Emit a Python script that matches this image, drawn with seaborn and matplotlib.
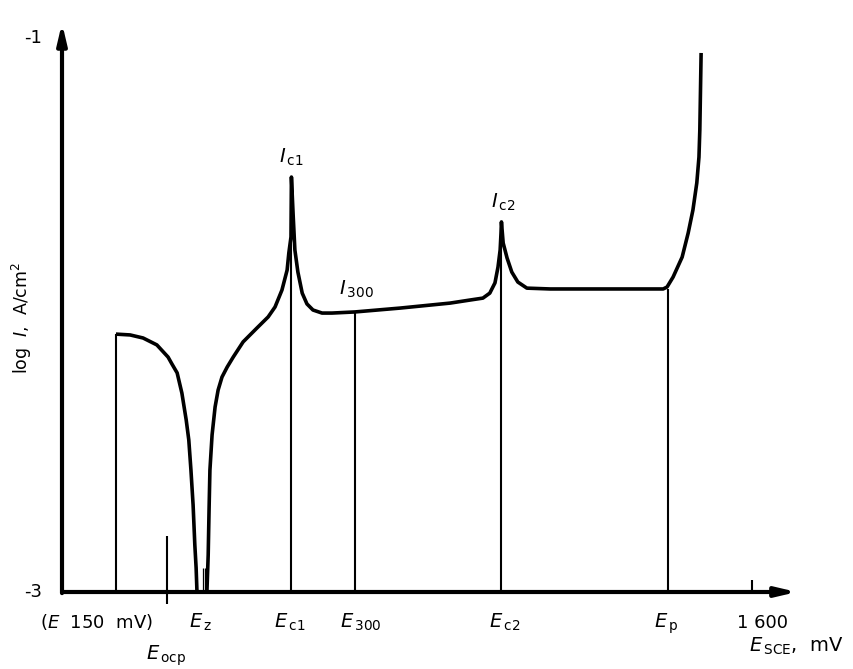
import matplotlib
matplotlib.use("Agg")
import matplotlib.pyplot as plt
import seaborn as sns
import pandas as pd

sns.set_style("white")
plt.rcParams["font.family"] = ["DejaVu Sans"]
plt.rcParams["mathtext.fontset"] = "dejavusans"
plt.rcParams["text.color"] = "black"

# ---- data (E in mV, log I in A/cm^2) ----
# cathodic branch (from start potential down to the current zero crossing)
branch1_E = [125, 158, 188, 220, 246, 255, 267, 278, 288, 294, 299, 304, 308, 311, 313]
branch1_logI = [-2.069, -2.072, -2.083, -2.108, -2.152, -2.177, -2.209, -2.282, -2.379,
                -2.451, -2.560, -2.686, -2.830, -2.913, -3.000]

# anodic branch (from zero crossing through Ic1, I300, Ic2, passive range, breakdown)
branch2_E = [336, 339, 341, 343, 348, 355, 362, 371, 383, 397, 420, 452, 478, 494, 510, 522,
             526, 531, 532, 536, 540, 547, 557, 568, 582, 603, 626, 679, 784, 900, 946,
             976, 992, 1004, 1011, 1016, 1018, 1019, 1023, 1032, 1043, 1057, 1078, 1132, 1248,
             1394, 1403, 1417, 1438, 1452, 1463, 1472, 1477, 1479, 1482]
branch2_logI = [-3.000, -2.866, -2.704, -2.560, -2.433, -2.332, -2.271, -2.224, -2.188, -2.152,
                -2.097, -2.047, -2.007, -1.971, -1.910, -1.838, -1.776, -1.718, -1.502, -1.639,
                -1.765, -1.845, -1.921, -1.960, -1.982, -1.993, -1.993, -1.989, -1.975, -1.957,
                -1.946, -1.939, -1.921, -1.884, -1.827, -1.765, -1.704, -1.664, -1.740, -1.794,
                -1.845, -1.881, -1.903, -1.906, -1.906, -1.906, -1.899, -1.863, -1.791, -1.704,
                -1.621, -1.523, -1.430, -1.332, -1.054]

# characteristic potentials drawn as vertical lines (E, top log I)
marker_E = [125, 532, 679, 1019, 1405]
marker_top = [-2.069, -1.502, -1.993, -1.664, -1.906]
ocp_E, ocp_bottom, ocp_top = 243, -3.043, -2.798
ez_E = [327, 332]
ez_top = -2.913
tick1600_E, tick1600_top = 1600, -2.957

y_ticks = [-3, -1]
y_tick_labels = ["-3", "-1"]

# ---- figure ----
fig = plt.figure(figsize=(8.54, 6.69), dpi=100)
ax = fig.add_axes([62 / 854, 77 / 669, 738 / 854, 572 / 669])
ax.set_xlim(0, 1711.3)
ax.set_ylim(-3, -0.935)
ax.axis("off")

df1 = pd.DataFrame({"E": branch1_E, "logI": branch1_logI})
df2 = pd.DataFrame({"E": branch2_E, "logI": branch2_logI})
for df in (df1, df2):
    sns.lineplot(data=df, x="E", y="logI", ax=ax, sort=False, estimator=None,
                 color="black", lw=2.6, legend=False,
                 solid_joinstyle="round", solid_capstyle="butt")

ax.vlines(marker_E, -3, marker_top, color="black", lw=1.5)
ax.vlines([ocp_E], ocp_bottom, ocp_top, color="black", lw=1.5, clip_on=False)
ax.vlines(ez_E, -3, ez_top, color="black", lw=0.9)
ax.vlines([tick1600_E], -3, tick1600_top, color="black", lw=1.5)

# axes with arrows
arrow = dict(arrowstyle="-|>,head_length=0.85,head_width=0.2", lw=3,
             color="black", shrinkA=0, shrinkB=0, mutation_scale=14)
ax.annotate("", xy=(1704, -3), xytext=(0, -3), arrowprops=arrow, annotation_clip=False)
ax.annotate("", xy=(0, -0.946), xytext=(0, -3.004), arrowprops=arrow, annotation_clip=False)

# y tick labels
for yv, lab in zip(y_ticks, y_tick_labels):
    ax.text(-20 * 2.3188, yv, lab, ha="right", va="center", fontsize=13, clip_on=False)

# x labels
fs = 14
base = -3.130
ax.text(81, base, r"($E$  150  mV)", ha="center", va="baseline", fontsize=13, clip_on=False)
ax.text(241, -3.245, r"$E_{\,\mathrm{ocp}}$", ha="center", va="baseline", fontsize=fs, clip_on=False)
ax.text(322, base, r"$E_{\,\mathrm{z}}$", ha="center", va="baseline", fontsize=fs, clip_on=False)
ax.text(529, base, r"$E_{\,\mathrm{c1}}$", ha="center", va="baseline", fontsize=fs, clip_on=False)
ax.text(693, base, r"$E_{\,\mathrm{300}}$", ha="center", va="baseline", fontsize=fs, clip_on=False)
ax.text(1027, base, r"$E_{\,\mathrm{c2}}$", ha="center", va="baseline", fontsize=fs, clip_on=False)
ax.text(1401, base, r"$E_{\,\mathrm{p}}$", ha="center", va="baseline", fontsize=fs, clip_on=False)
ax.text(1625, base, "1 600", ha="center", va="baseline", fontsize=13, clip_on=False)
ax.text(1702, -3.217, r"$E_{\,\mathrm{SCE}}$,  mV", ha="center", va="baseline",
        fontsize=fs, clip_on=False)

# current labels
ax.text(533, -1.451, r"$I_{\,\mathrm{c1}}$", ha="center", va="baseline", fontsize=fs)
ax.text(682, -1.928, r"$I_{\,\mathrm{300}}$", ha="center", va="baseline", fontsize=fs)
ax.text(1023, -1.614, r"$I_{\,\mathrm{c2}}$", ha="center", va="baseline", fontsize=fs)

# y-axis label
fig.text(22 / 854, 1 - 318 / 669, r"log  $I$,  A/cm$^2$", rotation=90,
         ha="center", va="center", fontsize=12.5)

fig.savefig("out.png", dpi=100)
